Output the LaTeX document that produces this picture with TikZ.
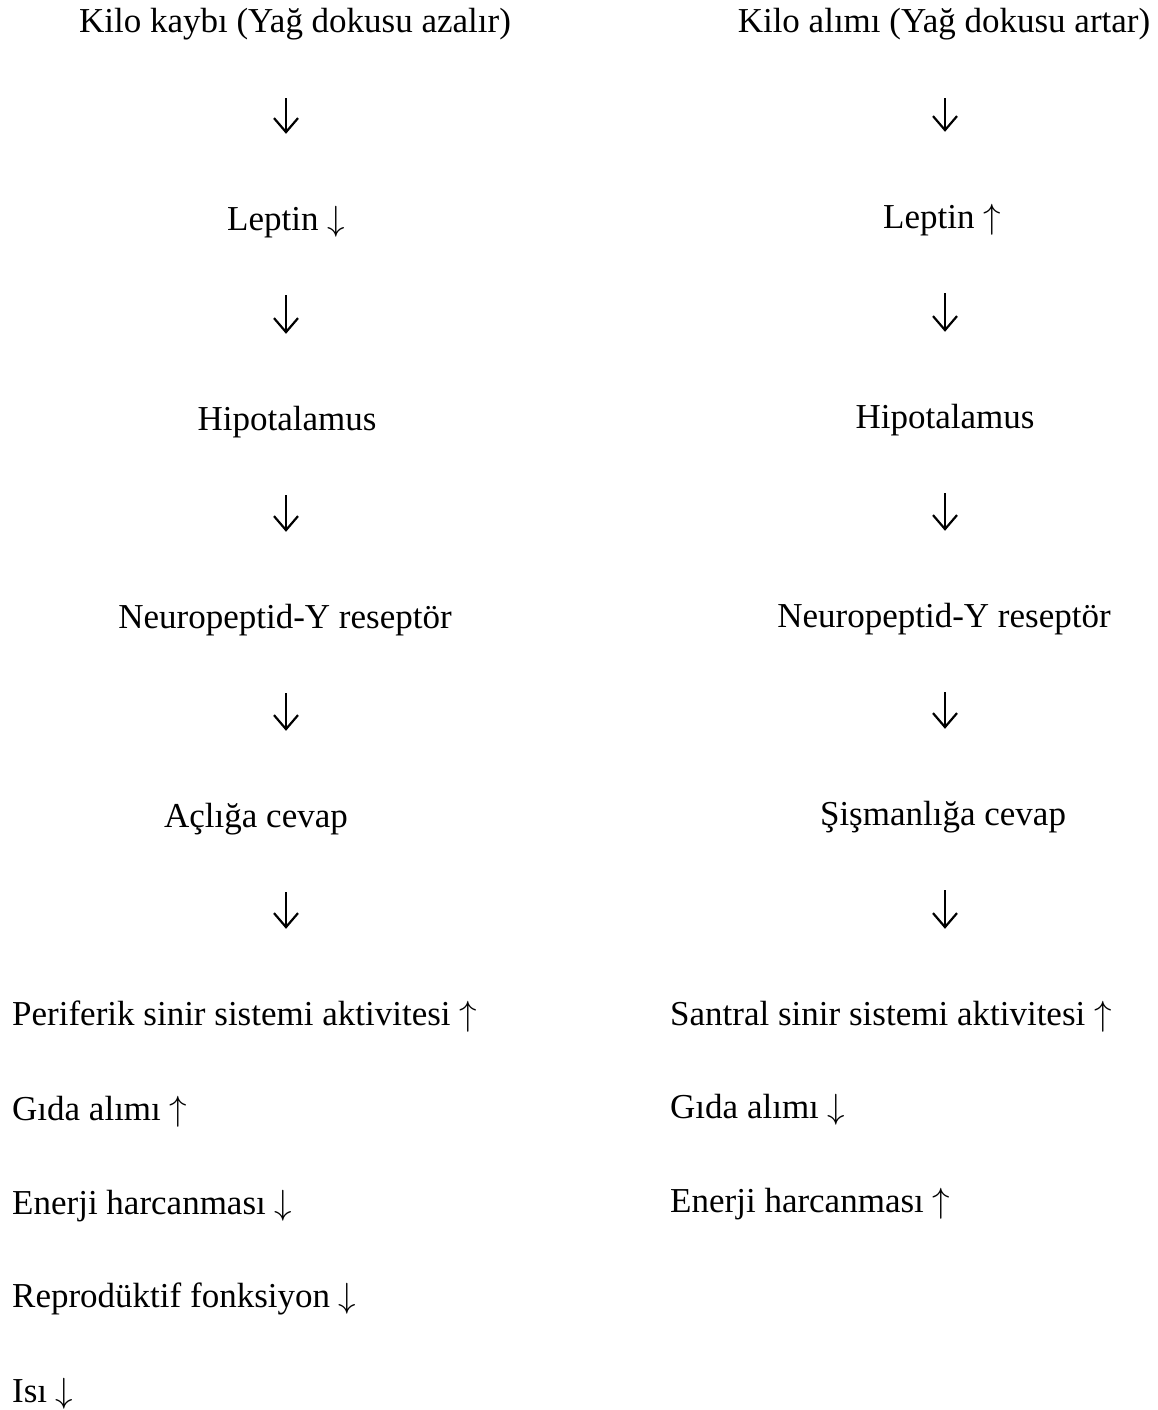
\RequirePackage{fix-cm}
\documentclass[tikz,border=0pt]{standalone}
\usepackage{fontspec}
\setmainfont{Liberation Serif}
\usetikzlibrary{arrows.meta}

\begin{document}
\begin{tikzpicture}[x=1pt,y=-1pt,
  txt/.style={inner sep=0pt,text height=26pt,text depth=8pt,font=\fontsize{35}{42}\selectfont},
  flow/.style={line width=2.2pt,-{Straight Barb[length=14pt,width=24pt]},shorten <=57pt,shorten >=70pt}]
  \useasboundingbox (0,0) rectangle (1158,1410);
  \coordinate (lx) at (286,0);
  \coordinate (rx) at (945,0);
  % left column
  \node [txt,anchor=base] (a) at (295,33) {Kilo kaybı (Yağ dokusu azalır)};
  \node [txt,anchor=base] (b) at (286,230) {Leptin $\downarrow$};
  \node [txt,anchor=base] (c) at (287,430) {Hipotalamus};
  \node [txt,anchor=base] (d) at (285,628) {Neuropeptid-Y reseptör};
  \node [txt,anchor=base] (e) at (256,827) {Açlığa cevap};
  \node [txt,anchor=base west] (f) at (12,1025) {Periferik sinir sistemi aktivitesi $\uparrow$};
  \node [txt,anchor=base west] (g) at (12,1120) {Gıda alımı $\uparrow$};
  \node [txt,anchor=base west] (h) at (12,1214) {Enerji harcanması $\downarrow$};
  \node [txt,anchor=base west] (i) at (12,1307) {Reprodüktif fonksiyon $\downarrow$};
  \node [txt,anchor=base west] (j) at (12,1402) {Isı $\downarrow$};
  % right column
  \node [txt,anchor=base] (k) at (944,33) {Kilo alımı (Yağ dokusu artar)};
  \node [txt,anchor=base] (l) at (942,228) {Leptin $\uparrow$};
  \node [txt,anchor=base] (m) at (945,428) {Hipotalamus};
  \node [txt,anchor=base] (n) at (944,627) {Neuropeptid-Y reseptör};
  \node [txt,anchor=base] (o) at (943,825) {Şişmanlığa cevap};
  \node [txt,anchor=base west] (p) at (670,1025) {Santral sinir sistemi aktivitesi $\uparrow$};
  \node [txt,anchor=base west] (q) at (670,1118) {Gıda alımı $\downarrow$};
  \node [txt,anchor=base west] (r) at (670,1212) {Enerji harcanması $\uparrow$};

  \draw[flow] (a.south -| lx) -- (b.north -| lx);
  \draw[flow] (b.south -| lx) -- (c.north -| lx);
  \draw[flow] (c.south -| lx) -- (d.north -| lx);
  \draw[flow] (d.south -| lx) -- (e.north -| lx);
  \draw[flow] (e.south -| lx) -- (f.north -| lx);
  \draw[flow] (k.south -| rx) -- (l.north -| rx);
  \draw[flow] (l.south -| rx) -- (m.north -| rx);
  \draw[flow] (m.south -| rx) -- (n.north -| rx);
  \draw[flow] (n.south -| rx) -- (o.north -| rx);
  \draw[flow] (o.south -| rx) -- (p.north -| rx);
\end{tikzpicture}
\end{document}
